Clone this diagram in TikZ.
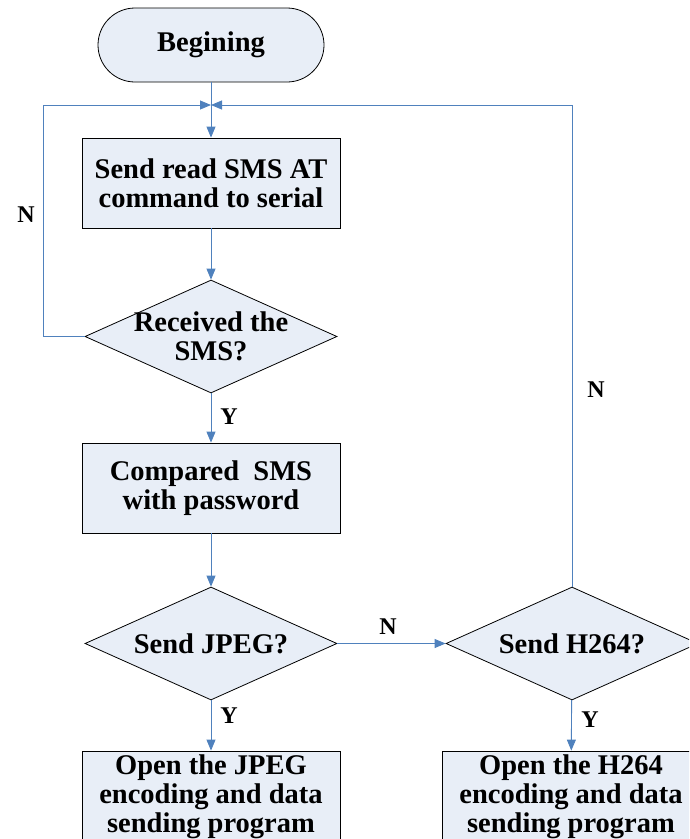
\documentclass[tikz,border=0pt]{standalone}
\usepackage{fontspec}
\setmainfont{Liberation Serif}
\usetikzlibrary{shapes.geometric,arrows.meta}
\definecolor{boxfill}{RGB}{232,238,247}
\definecolor{flowblue}{RGB}{79,129,189}
\begin{document}
\begin{tikzpicture}[x=1pt, y=-1pt,
	font=\fontsize{28.5}{29}\selectfont\bfseries,
	startbox/.style={draw=black, fill=boxfill, shape=rectangle, rounded corners=37pt, minimum width=226pt, minimum height=74pt, line width=0.8pt},
	procbox/.style={draw=black, fill=boxfill, shape=rectangle, minimum width=258pt, minimum height=90pt, align=center, inner sep=0pt, line width=0.8pt},
	decide/.style={draw=black, fill=boxfill, shape=diamond, aspect=2.23, minimum width=252pt, minimum height=113pt, inner sep=0pt, line width=0.8pt, label={[align=center]center:#1}},
	flow/.style={draw=flowblue, line width=0.9pt},
	flowarrow/.style={-{Triangle[length=11pt,width=9pt,fill=flowblue]}},
	yn/.style={font=\fontsize{24}{26}\selectfont\bfseries}]
	\useasboundingbox (0,0) rectangle (689,839);
	\clip (0,0) rectangle (689,839);

	\node[startbox] (t_1) at (211,45) {Begining};
	\coordinate (m_1) at (211,105);
	\node[procbox] (b_1) at (211,183) {Send read SMS AT\\command to serial};
	\node[decide={Received the\\SMS?}] (d_1) at (211,336.5) {};
	\node[procbox] (b_2) at (211,488) {Compared\ \ SMS\\with password};
	\node[decide={Send JPEG?}] (d_2) at (211,643.5) {};
	\node[decide={Send H264?}] (d_3) at (572,643.5) {};
	\node[procbox, minimum height=92pt] (b_3) at (211,797) {Open the JPEG\\encoding and data\\sending program};
	\node[procbox, minimum height=92pt] (b_4) at (571,797) {Open the H264\\encoding and data\\sending program};

	\node[yn] (n_1) at (26,215) {N};
	\node[yn] (y_1) at (229,417) {Y};
	\node[yn] (n_2) at (388,627) {N};
	\node[yn] (y_2) at (229,716) {Y};
	\node[yn] (y_3) at (590,720) {Y};
	\node[yn] (n_3) at (596,390) {N};

	\draw[flow, flowarrow] (t_1) -- (b_1);
	\draw[flow, flowarrow] (d_1.west) -- (43,336.5) |- (m_1);
	\draw[flow, flowarrow] (d_3.north) |- (m_1);
	\draw[flow, flowarrow] (b_1) -- (d_1);
	\draw[flow, flowarrow] (d_1) -- (b_2);
	\draw[flow, flowarrow] (b_2) -- (d_2);
	\draw[flow, flowarrow] (d_2) -- (d_3);
	\draw[flow, flowarrow] (d_2) -- (b_3);
	\draw[flow, flowarrow] (d_3) -- (b_4);
\end{tikzpicture}
\end{document}
